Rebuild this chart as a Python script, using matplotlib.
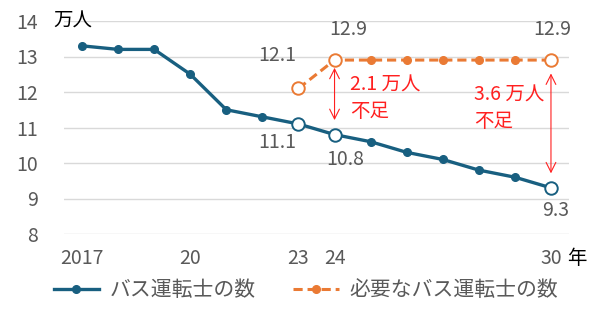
import matplotlib
matplotlib.use("Agg")
import matplotlib.pyplot as plt

plt.rcParams['font.family'] = ['Noto Sans CJK JP', 'DejaVu Sans']

years = [2017, 2018, 2019, 2020, 2021, 2022, 2023, 2024, 2025, 2026, 2027, 2028, 2029, 2030]
drivers = [13.3, 13.2, 13.2, 12.5, 11.5, 11.3, 11.1, 10.8, 10.6, 10.3, 10.1, 9.8, 9.6, 9.3]
need_years = [2023, 2024, 2025, 2026, 2027, 2028, 2029, 2030]
needed = [12.1, 12.9, 12.9, 12.9, 12.9, 12.9, 12.9, 12.9]
xtick_pos = [2017, 2020, 2023, 2024, 2030]
xtick_labels = ['2017', '20', '23', '24', '30']
yticks = [8, 9, 10, 11, 12, 13, 14]
open_blue = [2023, 2024, 2030]
open_orange = [2023, 2024, 2030]

BLUE = '#185F80'
ORANGE = '#EA7A34'
GRAY = '#595959'
RED = '#FF2020'

fig = plt.figure(figsize=(6, 3.09), dpi=100)
ax = fig.add_axes([64/600, 1-234/309, (569-64)/600, (234-21)/309])
ax.set_xlim(2016.5, 2030.5)
ax.set_ylim(8, 14)

for y in yticks:
    ax.axhline(y, color='#D9D9D9', lw=1, zorder=0)

ax.plot(years, drivers, color=BLUE, lw=2.4, marker='o', ms=5.5, zorder=3, label='バス運転士の数')
ax.plot(need_years, needed, color=ORANGE, lw=2.2, ls=(0, (3, 1.6)), marker='o', ms=5.5, zorder=3,
        label='必要なバス運転士の数')

for yr in open_blue:
    v = drivers[years.index(yr)]
    ax.plot([yr], [v], marker='o', ms=9, mfc='white', mec=BLUE, mew=1.4, zorder=4, ls='none')
for yr in open_orange:
    v = needed[need_years.index(yr)]
    ax.plot([yr], [v], marker='o', ms=9, mfc='white', mec=ORANGE, mew=1.4, zorder=4, ls='none')

fs = 14
ax.set_yticks(yticks)
ax.set_yticklabels([str(y) for y in yticks], fontsize=fs, color=GRAY)
ax.set_xticks(xtick_pos)
ax.set_xticklabels(xtick_labels, fontsize=fs, color=GRAY)
ax.tick_params(axis='y', length=0, pad=19)
ax.tick_params(axis='x', length=0, pad=10)
for s in ax.spines.values():
    s.set_visible(False)

ax.text(2030.45, 7.32, '年', fontsize=fs, color='black', va='center', ha='left')
ax.text(2016.2, 14, '万人', fontsize=fs, color='black', va='center', ha='left')

# data labels
def lbl(x, y, s, dx, dy, ha='center'):
    ax.annotate(s, (x, y), xytext=(dx, dy), textcoords='offset points', ha=ha, va='center',
                fontsize=fs, color=GRAY)

lbl(2023, needed[0], '12.1', -15, 24)
lbl(2024, needed[1], '12.9', 10, 22)
lbl(2030, needed[-1], '12.9', 1, 22)
lbl(2023, drivers[6], '11.1', -15, -13)
lbl(2024, drivers[7], '10.8', 8, -18)
lbl(2030, drivers[-1], '9.3', 3.5, -16)

# arrows
ax.annotate('', xy=(2024, 11.13), xytext=(2024, 12.76),
            arrowprops=dict(arrowstyle='<->,head_length=0.7,head_width=0.35', color=RED, lw=0.8))
ax.annotate('', xy=(2030, 9.63), xytext=(2030, 12.6),
            arrowprops=dict(arrowstyle='<->,head_length=0.7,head_width=0.35', color=RED, lw=0.8))
ax.text(2024.43, 11.82, '2.1 万人\n不足', fontsize=fs, color=RED, va='center', ha='left', linespacing=1.35)
ax.text(2027.87, 11.55, '3.6 万人\n不足', fontsize=fs, color=RED, va='center', ha='left', linespacing=1.35)

fig.legend(loc='lower center', bbox_to_anchor=(0.51, -0.035), ncol=2, frameon=False, fontsize=15,
           handlelength=2.2, handletextpad=0.5, columnspacing=1.8, labelcolor=GRAY)

fig.savefig('out.png', dpi=100)
